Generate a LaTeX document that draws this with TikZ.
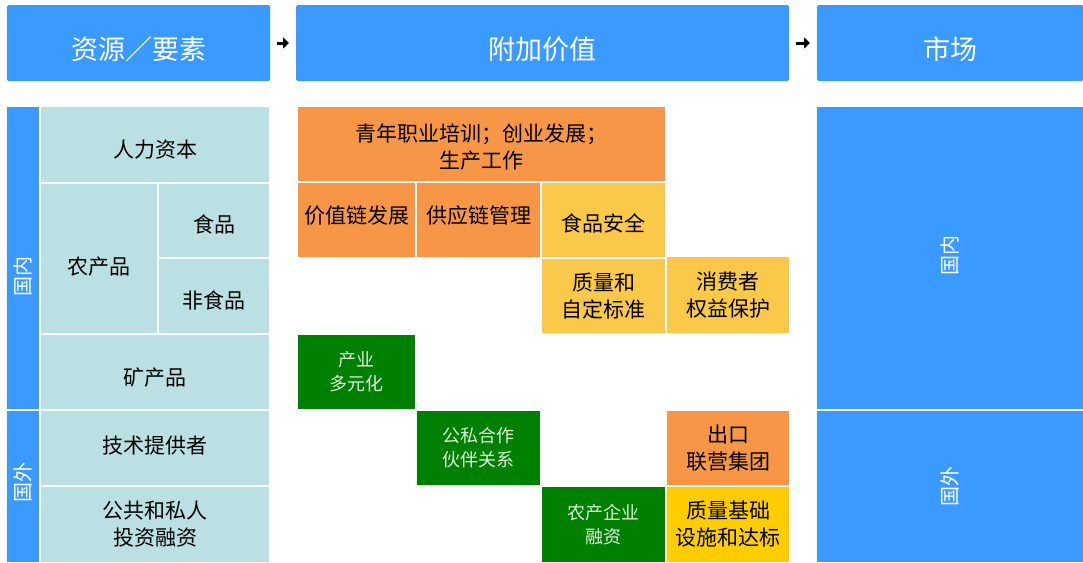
\documentclass[tikz,border=0pt]{standalone}
\usepackage{fontspec}
\setmainfont{Noto Sans CJK SC}
\usetikzlibrary{arrows.meta}
\definecolor{hblue}{HTML}{3A9AFF}
\definecolor{lcyan}{HTML}{BAE0E3}
\definecolor{orng}{HTML}{F79646}
\definecolor{ylw}{HTML}{FAC94A}
\definecolor{gold}{HTML}{FFCC00}
\definecolor{grn}{HTML}{008000}
\definecolor{grntext}{HTML}{DDEFDD}
\begin{document}
\begin{tikzpicture}[x=1pt,y=-1pt,
  span/.style n args={4}{minimum width={(#3)-(#1)},minimum height={(#4)-(#2)},
    at={({((#1)+(#3))/2},{((#2)+(#4))/2})}},
  th/.style={text depth=0pt,text height=#1},
  base/.style={inner sep=0pt,outer sep=0pt,align=center},
  head/.style={base,fill=hblue,rounded corners=1.5pt,text=white,
    font=\fontsize{27}{31}\selectfont,th=33pt},
  strip/.style={base,fill=hblue,text=white,font=\fontsize{20}{22}\selectfont},
  res/.style={base,fill=lcyan,text=black,font=\fontsize{21}{27}\selectfont},
  ora/.style={base,fill=orng,text=black,font=\fontsize{21}{27}\selectfont},
  yel/.style={base,fill=ylw,text=black,font=\fontsize{21}{27}\selectfont},
  gld/.style={base,fill=gold,text=black,font=\fontsize{21}{27}\selectfont},
  gre/.style={base,fill=grn,text=grntext,font=\fontsize{18}{24}\selectfont},
  harrow/.style={line width=3pt,-{Triangle[length=6pt,width=11pt]},
    shorten <=7pt,shorten >=7pt}]
\useasboundingbox (0,0) rectangle (1083,562);
% headers
\node[head,span={7}{5}{270}{81}] (h1) {资源／要素};
\node[head,span={296}{5}{789}{81}] (h2) {附加价值};
\node[head,span={817}{5}{1083}{81}] (h3) {市场};
\draw[harrow] (h1) -- (h2);
\draw[harrow] (h2) -- (h3);
% left strips
\node[strip,span={7}{107}{39}{409}] (ldom) {\rule{0pt}{76pt}\rotatebox{90}{国内}};
\node[strip,span={7}{411}{39}{562}] (lfor) {\rule[-8pt]{0pt}{8pt}\rotatebox{90}{国外}};
% resources
\node[res,span={41}{107}{269}{182},th=25pt] (r1) {人力资本};
\node[res,span={41}{184}{157}{333},th=31pt] (r2) {农产品};
\node[res,span={159}{184}{269}{257},th=23pt] (r3) {食品};
\node[res,span={159}{259}{269}{333},th=24pt] (r4) {非食品};
\node[res,span={41}{335}{269}{409},th=26pt] (r5) {矿产品};
\node[res,span={41}{411}{269}{485},th=10pt] (r6) {技术提供者};
\node[res,span={41}{487}{269}{562}] (r7) {公共和私人\\投资融资};
% value added
\node[ora,span={298}{107}{665}{181}] (v1) {\rule{0pt}{24pt}青年职业培训；创业发展；\\生产工作};
\node[ora,span={298}{183}{415}{257},th=6pt] (v2) {价值链发展};
\node[ora,span={417}{183}{540}{257},th=6pt] (v3) {供应链管理};
\node[yel,span={542}{183}{665}{257},th=22pt] (v4) {食品安全};
\node[yel,span={542}{259}{665}{333}] (v5) {质量和\\自定标准};
\node[yel,span={667}{257}{789}{333}] (v6) {消费者\\权益保护};
\node[gre,span={298}{335}{415}{409}] (v7) {产业\\多元化};
\node[gre,span={417}{411}{540}{485}] (v8) {公私合作\\伙伴关系};
\node[ora,span={667}{411}{789}{485}] (v9) {出口\\联营集团};
\node[gre,span={542}{487}{665}{562}] (v10) {农产企业\\融资};
\node[gld,span={667}{487}{789}{562}] (v11) {质量基础\\设施和达标};
% market
\node[strip,span={817}{107}{1083}{409}] (mdom) {\rule[-6pt]{0pt}{6pt}\rotatebox{90}{国内}};
\node[strip,span={817}{411}{1083}{562}] (mfor) {\rotatebox{90}{国外}};
\end{tikzpicture}
\end{document}
